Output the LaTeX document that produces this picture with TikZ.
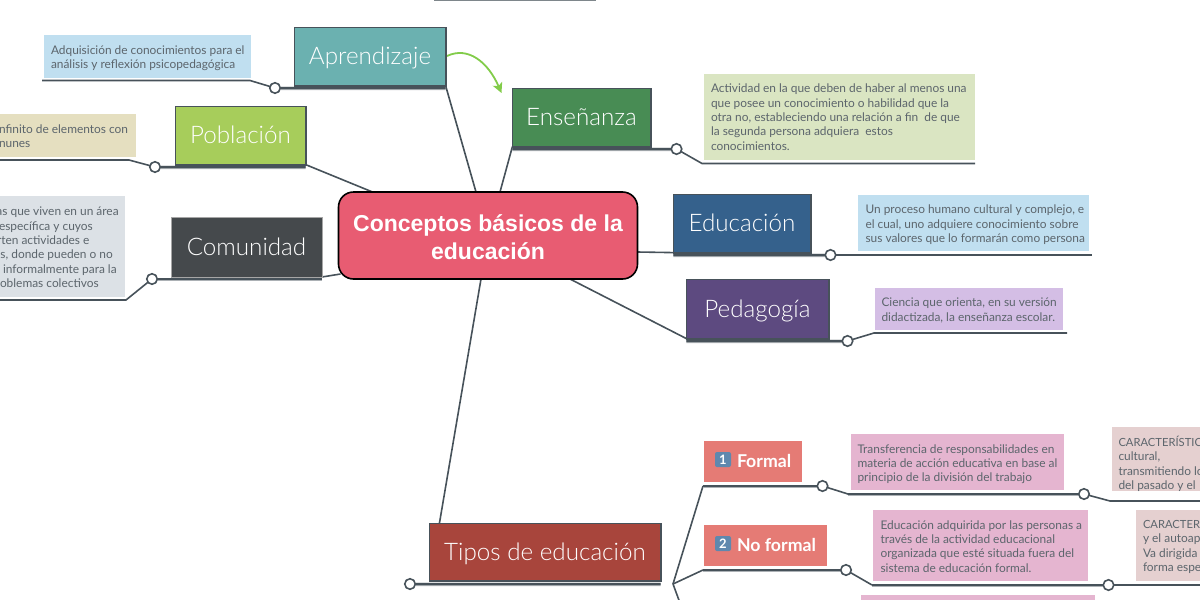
\documentclass[tikz,border=0pt]{standalone}
\usepackage{fontspec}
\usetikzlibrary{backgrounds,arrows.meta}
\setmainfont{Lato}
\newfontfamily\lightfont{Lato Light}
\newfontfamily\centerfont{Liberation Sans}[BoldFont={Liberation Sans Bold}]
\definecolor{lineC}{HTML}{47525A}
\definecolor{noteText}{HTML}{5C656C}
\definecolor{subC}{HTML}{E57B75}
\definecolor{capC}{HTML}{5F88AE}
\newcommand{\capsline}[1]{{\fontsize{11.2}{14.35}\selectfont #1}}
\tikzset{
  every node/.style={inner sep=0pt,outer sep=0pt},
  topic/.style={rectangle,draw=lineC,line width=1.8pt,text=white,text height=18.5pt,text depth=2.5pt,font=\lightfont\fontsize{24.2}{28}\selectfont},
  note/.style={rectangle},
  notetext/.style={anchor=north west,align=left,text=noteText,font=\fontsize{11.9}{14.35}\selectfont},
  sub/.style={rectangle,fill=subC},
  subtext/.style={text=white,font=\bfseries\fontsize{17.7}{20}\selectfont,anchor=west},
  keycap/.style={rectangle,rounded corners=2pt,fill=capC,text=white,minimum width=16pt,minimum height=15pt,font=\bfseries\fontsize{13}{14}\selectfont},
  link/.style={draw=lineC,line width=1.6pt},
  under/.style={draw=lineC,line width=2.2pt,preaction={draw=lineC!45,line width=3.2pt,transform canvas={yshift=-.5pt}}},
  knob/.style={circle,draw=lineC,line width=1.6pt,fill=white,minimum size=10.5pt},
}
\begin{document}
\begin{tikzpicture}[x=1pt,y=-1pt]
\useasboundingbox (0,0) rectangle (1200,600);
\clip (0,0) rectangle (1200,600);
% ---- central
\node[rectangle,rounded corners=15pt,draw=black,line width=1.6pt,fill={rgb,255:red,232;green,92;blue,114},text=white,
  minimum width=299pt,minimum height=87pt,align=center,
  font=\centerfont\bfseries\fontsize{23}{28}\selectfont] (main) at (488,235.5) {\rule{0pt}{19.5pt}Conceptos básicos de la\\educación};
% ---- topics
\node[topic,fill={rgb,255:red,107;green,177;blue,176},minimum width=151.2pt,minimum height=58.2pt] (apr) at (370,56.5) {Aprendizaje};
\node[topic,fill={rgb,255:red,167;green,205;blue,91},minimum width=130.2pt,minimum height=58.2pt] (pob) at (240.5,135.5) {Población};
\node[topic,draw=gray!70,line width=.8pt,fill={rgb,255:red,69;green,73;blue,76},minimum width=151pt,minimum height=60pt] (com) at (246.5,247) {Comunidad};
\node[topic,fill={rgb,255:red,72;green,140;blue,84},minimum width=138.2pt,minimum height=58.2pt] (ens) at (581.5,117.5) {Enseñanza};
\node[topic,fill={rgb,255:red,53;green,97;blue,140},minimum width=137.2pt,minimum height=58.2pt] (edu) at (742,223.5) {Educación};
\node[topic,fill={rgb,255:red,93;green,74;blue,128},minimum width=142.2pt,minimum height=59.2pt] (ped) at (757.5,309) {Pedagogía};
\node[topic,fill={rgb,255:red,168;green,69;blue,60},minimum width=231.2pt,minimum height=57.2pt] (tip) at (545,552) {Tipos de educación};
% ---- notes
\node[note,fill={rgb,255:red,192;green,223;blue,240},minimum width=207pt,minimum height=43pt] (napr) at (147.5,56.5) {};
\node[notetext] (tapr) at (51,45.5) {Adquisición de conocimientos para el\\análisis y reflexión psicopedagógica};
\node[note,fill={rgb,255:red,229;green,223;blue,192},minimum width=156pt,minimum height=43pt] (npob) at (58,135.5) {};
\node[notetext] (tpob) at (-1,124.5) {nfinito de elementos con\\nunes};
\node[note,fill={rgb,255:red,220;green,225;blue,230},minimum width=145pt,minimum height=101pt] (ncom) at (52.5,246.5) {};
\node[notetext] (tcom) at (-3.5,207) {as que viven en un área\\\hspace*{2.5pt}específica y cuyos\\\hspace*{.5pt}rten actividades e\\\hspace*{4pt}s, donde pueden o no\\\hspace*{6.5pt}informalmente para la\\\hspace*{3.5pt}oblemas colectivos};
\node[note,fill={rgb,255:red,218;green,229;blue,194},minimum width=271pt,minimum height=86pt] (nens) at (839.5,117) {};
\node[notetext] (tens) at (711,84) {Actividad en la que deben de haber al menos una\\que posee un conocimiento o habilidad que la\\otra no, estableciendo una relación a fin~ de que\\la segunda persona adquiera~ estos\\conocimientos.};
\node[note,fill={rgb,255:red,192;green,223;blue,240},minimum width=231pt,minimum height=56pt] (nedu) at (973.5,223) {};
\node[notetext] (tedu) at (865.5,205) {Un proceso humano cultural y complejo, e\\el cual, uno adquiere conocimiento sobre\\sus valores que lo formarán como persona};
\node[note,fill={rgb,255:red,212;green,190;blue,229},minimum width=188pt,minimum height=42pt] (nped) at (969,309) {};
\node[notetext] (tped) at (881.5,298) {Ciencia que orienta, en su versión\\didactizada, la enseñanza escolar.};
% ---- sub topics
\node[sub,minimum width=98pt,minimum height=41pt] (sfor) at (753,461.5) {};
\node[keycap] (kfor) at (723,459.5) {1};
\node[subtext] (tfor) at (737,461) {Formal};
\node[sub,minimum width=123pt,minimum height=41pt] (snof) at (765.5,545.5) {};
\node[keycap] (knof) at (723,543.5) {2};
\node[subtext] (tnof) at (737,545) {No formal};
% ---- sub notes
\node[note,fill={rgb,255:red,229;green,181;blue,208},minimum width=213pt,minimum height=56pt] (nfor) at (957.5,462) {};
\node[notetext] (ttfor) at (857.5,444.5) {Transferencia de responsabilidades en\\materia de acción educativa en base al\\principio de la división del trabajo};
\node[note,fill={rgb,255:red,229;green,208;blue,208},minimum width=110pt,minimum height=64pt] (nfor2) at (1167,459) {};
\node[notetext] (ttfor2) at (1118.5,436) {\capsline{CARACTERÍSTIC}\\cultural,\\transmitiendo lo\\del pasado y el};
\node[note,fill={rgb,255:red,229;green,181;blue,208},minimum width=215pt,minimum height=71pt] (nnof) at (980.5,545.5) {};
\node[notetext] (ttnof) at (880.5,520.5) {Educación adquirida por las personas a\\través de la actividad educacional\\organizada que esté situada fuera del\\sistema de educación formal.};
\node[note,fill={rgb,255:red,229;green,208;blue,208},minimum width=90pt,minimum height=71pt] (nnof2) at (1181,545.5) {};
\node[notetext] (ttnof2) at (1143,520.5) {\capsline{CARACTER}\\y el autoap\\Va dirigida\\forma espe};
\node[note,fill={rgb,255:red,229;green,181;blue,208},minimum width=234pt,minimum height=20pt] (nthird) at (978,605) {};
% ---- knobs
\node[knob] (kapr) at (275,88) {};
\node[knob] (kpob) at (155,167) {};
\node[knob] (kcom) at (152,279) {};
\node[knob] (kens) at (676.5,149) {};
\node[knob] (kedu) at (830.5,255) {};
\node[knob] (kped) at (847.5,341) {};
\node[knob] (ktip) at (410,584) {};
\node[knob] (kfor1) at (822.5,486) {};
\node[knob] (kfor2) at (1084,494) {};
\node[knob] (knof1) at (846,570) {};
\node[knob] (knof2) at (1108.5,585) {};
% ---- free ends
\coordinate (aprA) at (250,80.5); \coordinate (aprB) at (42,80.5);
\coordinate (pobA) at (129,160); \coordinate (pobB) at (-2,160);
\coordinate (comA) at (126,300); \coordinate (comB) at (-2,300);
\coordinate (ensA) at (702,163.5); \coordinate (ensB) at (975,163.5);
\coordinate (eduB) at (1092,255);
\coordinate (pedA) at (874,333); \coordinate (pedB) at (1067,333);
\coordinate (fork) at (673,584);
\coordinate (forU) at (703,486); \coordinate (nofU) at (703,570); \coordinate (thrU) at (680,603);
\coordinate (forA) at (848,494); \coordinate (forC) at (1110,501); \coordinate (forD) at (1202,501);
\coordinate (nofA) at (872,585); \coordinate (nofD) at (1202,585);
\coordinate (topA) at (434,0); \coordinate (topB) at (596,0);
\coordinate (aprOut) at (447,56); \coordinate (ensIn) at (501.5,93);
\begin{pgfonlayer}{background}
% links from the centre
\draw[link] (main.north west)+(34,0) -- (pob.south east);
\draw[link] (main.south west)+(2,-5) -- (com.south east);
\draw[link] (apr.south east) -- ([xshift=-12pt]main.north);
\draw[link] (ens.south west) -- ([xshift=12pt]main.north);
\draw[link] (main.east)+(0,16.5) -- (edu.south west);
\draw[link] (main.south)+(82,0) -- (ped.south west);
\draw[link] (tip.north west)+(10,0) -- ([xshift=-7pt]main.south);
% underlines
\draw[under] (apr.south east)+(0,2.4) -- (kapr);
\draw[link] (kapr) -- (aprA) -- (aprB);
\draw[under] (pob.south east)+(0,2.4) -- (kpob);
\draw[link] (kpob) -- (pobA) -- (pobB);
\draw[under] (com.south east)+(0,2) -- (kcom);
\draw[link] (kcom) -- (comA) -- (comB);
\draw[under] (ens.south west)+(0,2.4) -- (kens);
\draw[link] (kens) -- (ensA) -- (ensB);
\draw[under] (edu.south west)+(0,2.4) -- (kedu);
\draw[link] (kedu) -- (eduB);
\draw[under] (ped.south west)+(0,2.4) -- (kped);
\draw[link] (kped) -- (pedA) -- (pedB);
\draw[under] (tip.south east)+(0,3.4) -- (ktip);
\draw[link] (fork) -- (forU);
\draw[link] (fork) -- (nofU);
\draw[link] (fork) -- (thrU);
\draw[under] (forU) -- (kfor1);
\draw[link] (kfor1) -- (forA);
\draw[under] (forA) -- (kfor2);
\draw[link] (kfor2) -- (forC) -- (forD);
\draw[under] (nofU) -- (knof1);
\draw[link] (knof1) -- (nofA);
\draw[under] (nofA) -- (knof2);
\draw[link] (knof2) -- (nofD);
\draw[draw=lineC!70,line width=2pt] (topA) -- (topB);
\draw[draw={rgb,255:red,130;green,204;blue,74},line width=1.8pt,-{Stealth[length=10pt,width=10pt,inset=2.5pt]}]
  (aprOut) .. controls (468,46) and (488,62) .. (ensIn);
\end{pgfonlayer}
\end{tikzpicture}
\end{document}
